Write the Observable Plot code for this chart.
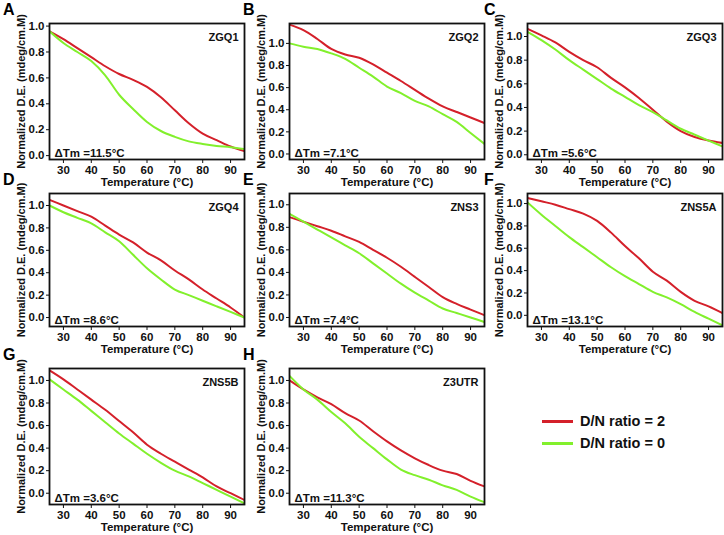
<!DOCTYPE html>
<html><head><meta charset="utf-8">
<script src="https://cdn.jsdelivr.net/npm/d3@7"></script>
<script src="https://cdn.jsdelivr.net/npm/@observablehq/plot@0.6"></script>
<style>
body{margin:0;background:#fff;font-family:Arial,"Liberation Sans",sans-serif;}
#root{position:relative;width:724px;height:535px;overflow:hidden;}
.panel{position:absolute;}
.letter{position:absolute;font-weight:bold;font-size:16px;color:#000;line-height:1;}
.leg{position:absolute;font-weight:bold;font-size:14.5px;color:#111;display:flex;align-items:center;}
.leg .sw{width:31px;height:3px;margin-right:7px;}
</style></head>
<body><div id="root"></div>
<script>
const temps = [25,30,35,40,45,50,55,60,65,70,75,80,85,90,95];
const panelLetters = ["A","B","C","D","E","F","G","H"];
const panelNames = ["ZGQ1","ZGQ2","ZGQ3","ZGQ4","ZNS3","ZNS5A","ZNS5B","Z3UTR"];
const deltaTm = ["11.5","7.1","5.6","8.6","7.4","13.1","3.6","11.3"];
const seriesLabels = ["D/N ratio = 2","D/N ratio = 0"];
const seriesColors = ["#d4202a","#82f02c"];
const yTicks = [0,0.2,0.4,0.6,0.8,1.0];
const xTicks = [30,40,50,60,70,80,90];

// D/N ratio = 2 (red)
const zgq1_r  = [0.96,0.90,0.83,0.76,0.69,0.63,0.585,0.53,0.45,0.35,0.25,0.17,0.12,0.07,0.035];
const zgq2_r  = [1.17,1.12,1.04,0.95,0.90,0.87,0.81,0.735,0.66,0.58,0.50,0.43,0.38,0.33,0.28];
const zgq3_r  = [1.065,1.01,0.95,0.87,0.80,0.74,0.65,0.57,0.48,0.38,0.28,0.20,0.15,0.12,0.10];
const zgq4_r  = [1.05,1.00,0.95,0.90,0.82,0.74,0.67,0.58,0.51,0.42,0.34,0.25,0.17,0.09,0.0];
const zns3_r  = [0.89,0.85,0.81,0.77,0.72,0.67,0.60,0.53,0.45,0.36,0.27,0.18,0.12,0.07,0.02];
const zns5a_r = [1.05,1.02,0.99,0.95,0.91,0.845,0.74,0.62,0.51,0.39,0.31,0.21,0.13,0.08,0.02];
const zns5b_r = [1.09,1.01,0.92,0.83,0.74,0.64,0.54,0.43,0.35,0.28,0.21,0.14,0.06,0.0,-0.06];
const z3utr_r = [1.0,0.92,0.85,0.79,0.71,0.645,0.55,0.46,0.38,0.31,0.25,0.20,0.17,0.11,0.06];
// D/N ratio = 0 (green)
const zgq1_g  = [0.96,0.87,0.80,0.73,0.62,0.47,0.36,0.26,0.19,0.145,0.11,0.09,0.075,0.065,0.05];
const zgq2_g  = [1.0,0.97,0.95,0.91,0.86,0.78,0.70,0.61,0.55,0.48,0.43,0.36,0.29,0.19,0.09];
const zgq3_g  = [1.04,0.97,0.89,0.80,0.72,0.64,0.56,0.49,0.42,0.36,0.29,0.22,0.17,0.12,0.07];
const zgq4_g  = [1.0,0.94,0.89,0.84,0.76,0.68,0.56,0.44,0.34,0.25,0.20,0.15,0.10,0.05,0.0];
const zns3_g  = [0.92,0.85,0.78,0.71,0.64,0.57,0.48,0.39,0.30,0.22,0.15,0.08,0.04,0.0,-0.04];
const zns5a_g = [1.01,0.90,0.80,0.70,0.61,0.52,0.43,0.35,0.28,0.21,0.16,0.10,0.03,-0.03,-0.09];
const zns5b_g = [1.01,0.92,0.83,0.73,0.63,0.53,0.44,0.35,0.27,0.20,0.15,0.09,0.03,-0.03,-0.09];
const z3utr_g = [1.04,0.92,0.83,0.72,0.62,0.50,0.40,0.30,0.21,0.16,0.12,0.07,0.03,-0.03,-0.08];

const redSeries = [zgq1_r,zgq2_r,zgq3_r,zgq4_r,zns3_r,zns5a_r,zns5b_r,z3utr_r];
const greenSeries = [zgq1_g,zgq2_g,zgq3_g,zgq4_g,zns3_g,zns5a_g,zns5b_g,z3utr_g];
const yDomains = [[-0.03,1.02],[-0.05,1.18],[-0.04,1.11],[-0.08,1.107],[-0.08,1.1],[-0.1,1.09],[-0.1,1.106],[-0.1,1.106]];

// layout
const colX = [0,240,478];
const rowFrameTop = [23,193,368];
const rowFrameH = [136,133,136];
const mTop = 10, mBottom = 30, mLeft = 49, mRight = 1, W = 245;

const root = document.getElementById("root");
const font = 'Arial, "Liberation Sans", sans-serif';

for (let i = 0; i < 8; i++) {
  const col = i % 3, row = Math.floor(i / 3);
  const data = [];
  temps.forEach((t, k) => {
    data.push({t, v: redSeries[i][k], s: seriesLabels[0]});
  });
  temps.forEach((t, k) => {
    data.push({t, v: greenSeries[i][k], s: seriesLabels[1]});
  });
  const H = mTop + rowFrameH[row] + mBottom;
  const p = Plot.plot({
    width: W, height: H,
    marginTop: mTop, marginBottom: mBottom, marginLeft: mLeft, marginRight: mRight,
    style: {background: "transparent", fontFamily: font, fontWeight: "bold", fontSize: "11.5px", color: "#111", overflow: "visible"},
    x: {domain: [25,95], ticks: xTicks, tickSize: 4, tickPadding: 2, label: "Temperature (°C)", labelAnchor: "center", labelOffset: 26, labelArrow: "none"},
    y: {domain: yDomains[i], ticks: yTicks, tickFormat: ".1f", tickSize: 3, tickPadding: 2, label: "Normalized D.E. (mdeg/cm.M)", labelAnchor: "center", labelOffset: 32, labelArrow: "none"},
    color: {domain: seriesLabels, range: seriesColors},
    marks: [
      Plot.line(data, {x: "t", y: "v", z: "s", stroke: "s", strokeWidth: 2, curve: "monotone-x", clip: true}),
      Plot.frame({stroke: "#111", strokeWidth: 1.8}),
      Plot.text([panelNames[i]], {frameAnchor: "top-right", dx: -6, dy: 10, text: d => d, fontWeight: "bold", fontSize: 11}),
      Plot.text(["\u0394Tm =" + deltaTm[i] + "°C"], {frameAnchor: "bottom-left", dx: 5, dy: -3, text: d => d, fontWeight: "bold", fontSize: 11.5, textAnchor: "start", lineAnchor: "bottom"})
    ]
  });
  const yl = p.querySelector('g[aria-label="y-axis label"]');
  if (yl) yl.setAttribute("font-size", "11");
  const wrap = document.createElement("div");
  wrap.className = "panel";
  wrap.style.left = colX[col] + "px";
  wrap.style.top = (rowFrameTop[row] - mTop) + "px";
  wrap.appendChild(p);
  root.appendChild(wrap);

  const L = document.createElement("div");
  L.className = "letter";
  L.textContent = panelLetters[i];
  L.style.left = (colX[col] + 3 + (col === 2 ? 3 : 0)) + "px";
  L.style.top = (rowFrameTop[row] - 21) + "px";
  root.appendChild(L);
}

// legend
seriesLabels.forEach((lab, k) => {
  const d = document.createElement("div");
  d.className = "leg";
  d.style.left = "542px";
  d.style.top = (413 + k * 22) + "px";
  const sw = document.createElement("div");
  sw.className = "sw";
  sw.style.background = seriesColors[k];
  const tx = document.createElement("span");
  tx.textContent = lab;
  d.appendChild(sw); d.appendChild(tx);
  root.appendChild(d);
});
</script></body></html>
